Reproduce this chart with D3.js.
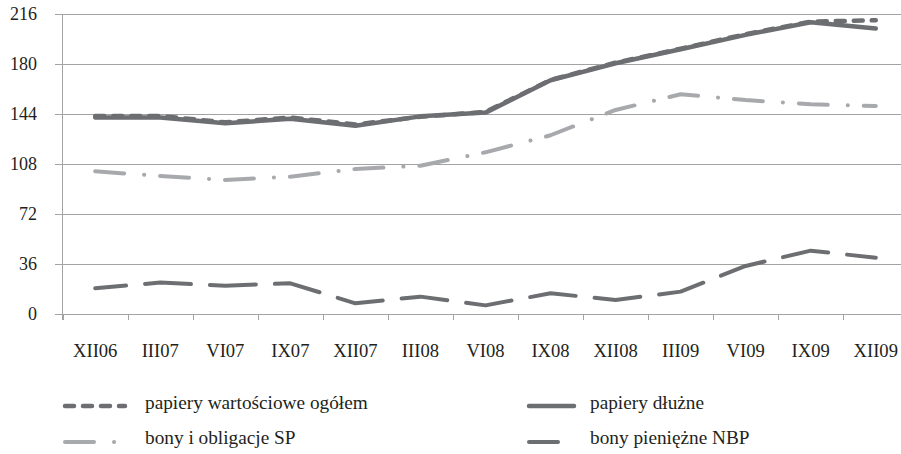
<!DOCTYPE html>
<html>
<head>
<meta charset="utf-8">
<script src="https://cdn.jsdelivr.net/npm/d3@7"></script>
<style>
  html, body { margin: 0; padding: 0; background: #fff; }
  svg { display: block; font-family: "Liberation Serif", "DejaVu Serif", serif; }
</style>
</head>
<body>
<svg id="chart" width="901" height="454"></svg>
<script>
const categories = ["XII06","III07","VI07","IX07","XII07","III08","VI08","IX08","XII08","III09","VI09","IX09","XII09"];
const ogolem  = [142.5, 142.5, 138, 141.5, 136.5, 142, 145.5, 168.5, 181, 191, 201.5, 210.5, 211.5];
const dluzne  = [141.5, 141.5, 137.3, 140.5, 135.6, 142.3, 145, 168.3, 180.5, 190.6, 201, 210, 205.5];
const bonySP  = [102.7, 99.4, 96.5, 98.9, 104.4, 106.8, 116.4, 128.7, 146.9, 158.2, 154, 151, 149.8];
const bonyNBP = [18.5, 22.6, 20.4, 22.1, 7.7, 12.5, 6.2, 14.9, 10.1, 16.1, 34.6, 45.6, 40.5];
const yTicks = [0, 36, 72, 108, 144, 180, 216];
const seriesNames = ["papiery wartościowe ogółem", "papiery dłużne", "bony i obligacje SP", "bony pieniężne NBP"];

const svg = d3.select("#chart");
const dark = "#6d6e71", light = "#a7a9ac", grid = "#a3a3a3", textCol = "#231f20";

const x = d3.scaleBand().domain(categories).range([62.7, 908.3]);
const y = d3.scaleLinear().domain([0, 216]).range([314, 14]);

// gridlines
svg.append("g").selectAll("line").data(yTicks).join("line")
  .attr("x1", 55).attr("x2", 901)
  .attr("y1", d => Math.round(y(d)) + 0.5).attr("y2", d => Math.round(y(d)) + 0.5)
  .attr("stroke", grid).attr("stroke-width", 1);

// y axis line
svg.append("line").attr("x1", 62.5).attr("x2", 62.5).attr("y1", y(216)).attr("y2", y(0) + 6)
  .attr("stroke", grid).attr("stroke-width", 1);

// x ticks at band boundaries
svg.append("g").selectAll("line").data(categories).join("line")
  .attr("x1", d => Math.round(x(d)) + 0.5).attr("x2", d => Math.round(x(d)) + 0.5)
  .attr("y1", y(0)).attr("y2", y(0) + 6)
  .attr("stroke", grid).attr("stroke-width", 1);

// y labels
svg.append("g").selectAll("text").data(yTicks).join("text")
  .attr("x", 37).attr("y", d => y(d)).attr("dy", "0.34em")
  .attr("text-anchor", "end").attr("font-size", 18).attr("fill", textCol)
  .text(d => d);

// x labels
svg.append("g").selectAll("text").data(categories).join("text")
  .attr("x", d => x(d) + x.bandwidth() / 2).attr("y", 357)
  .attr("text-anchor", "middle").attr("font-size", 18.6).attr("fill", textCol)
  .text(d => d);

const line = d3.line()
  .x((d, i) => x(categories[i]) + x.bandwidth() / 2)
  .y(d => y(d));

function drawSeries(data, color, width, dash, offset) {
  svg.append("path").datum(data)
    .attr("d", line)
    .attr("fill", "none")
    .attr("stroke", color)
    .attr("stroke-width", width)
    .attr("stroke-linecap", "round")
    .attr("stroke-linejoin", "round")
    .attr("stroke-dasharray", dash)
    .attr("stroke-dashoffset", offset || 0);
}

drawSeries(bonySP, light, 4, "29,20,0.1,15.9");
drawSeries(bonyNBP, dark, 4, "46,19", 15);
drawSeries(ogolem, dark, 4.5, "9,9");
drawSeries(dluzne, dark, 4.5, null);

// legend
const legend = [
  {name: seriesNames[0], color: dark, w: 4.5, dash: "9,9", x1: 65, x2: 125, lx: 145, ly: 406, ty: 409},
  {name: seriesNames[1], color: dark, w: 4.5, dash: null, x1: 529, x2: 574, lx: 590, ly: 406, ty: 409},
  {name: seriesNames[2], color: light, w: 4, dash: "29,20,0.1,15.9", x1: 65, x2: 125, lx: 145, ly: 442, ty: 444},
  {name: seriesNames[3], color: dark, w: 4, dash: "29,46", x1: 529, x2: 576, lx: 590, ly: 442, ty: 444}
];
const lg = svg.append("g");
lg.selectAll("line").data(legend).join("line")
  .attr("x1", d => d.x1).attr("x2", d => d.x2)
  .attr("y1", d => d.ly).attr("y2", d => d.ly)
  .attr("stroke", d => d.color).attr("stroke-width", d => d.w)
  .attr("stroke-linecap", "round")
  .attr("stroke-dasharray", d => d.dash);
lg.selectAll("text").data(legend).join("text")
  .attr("x", d => d.lx).attr("y", d => d.ty)
  .attr("font-size", 19.3).attr("fill", textCol)
  .text(d => d.name);
</script>
</body>
</html>
